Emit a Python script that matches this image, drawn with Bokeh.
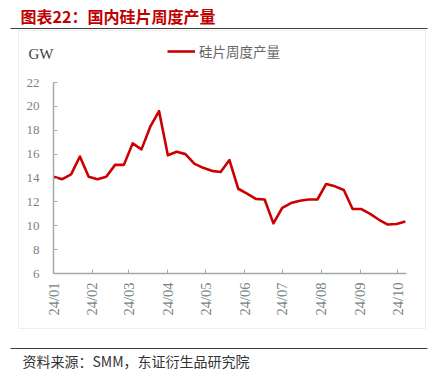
import math
import pandas as pd
from bokeh.plotting import figure
from bokeh.models import (Label, BoxAnnotation, Legend, LegendItem, FixedTicker,
                          DatetimeTickFormatter, Range1d)
from bokeh.embed import file_html
from bokeh.resources import INLINE

title_text = "图表22：国内硅片周度产量"
series_name = "硅片周度产量"
unit_label = "GW"
source_text = "资料来源：SMM，东证衍生品研究院"

week_dates = [
    "2024-01-01", "2024-01-08", "2024-01-15", "2024-01-22", "2024-01-29",
    "2024-02-05", "2024-02-12", "2024-02-19", "2024-02-26",
    "2024-03-04", "2024-03-11", "2024-03-18", "2024-03-25",
    "2024-04-01", "2024-04-08", "2024-04-15", "2024-04-22", "2024-04-29",
    "2024-05-06", "2024-05-13", "2024-05-20", "2024-05-27",
    "2024-06-03", "2024-06-10", "2024-06-17", "2024-06-24",
    "2024-07-01", "2024-07-08", "2024-07-15", "2024-07-22", "2024-07-29",
    "2024-08-05", "2024-08-12", "2024-08-19", "2024-08-26",
    "2024-09-02", "2024-09-09", "2024-09-16", "2024-09-23", "2024-09-30",
    "2024-10-07",
]
output_gw = [
    14.1, 13.9, 14.3, 15.8, 14.1,
    13.9, 14.1, 15.1, 15.1,
    16.9, 16.4, 18.3, 19.6,
    15.9, 16.2, 16.0, 15.2, 14.85,
    14.6, 14.5, 15.5, 13.1,
    12.7, 12.25, 12.2, 10.2,
    11.5, 11.9, 12.1, 12.2, 12.2,
    13.5, 13.3, 13.0, 11.4,
    11.4, 11.0, 10.5, 10.1, 10.15,
    10.35,
]
month_ticks = ["2024-01-01", "2024-02-01", "2024-03-01", "2024-04-01", "2024-05-01",
               "2024-06-01", "2024-07-01", "2024-08-01", "2024-09-01", "2024-10-01"]
y_ticks = [6, 8, 10, 12, 14, 16, 18, 20, 22]
axis_start = "2024-01-01"
axis_end = "2024-10-07 12:00"
y_min, y_max = 6, 22

W, H = 430, 376
# screen placement of the axes (pixels from the canvas top-left)
AX_LEFT, AX_RIGHT = 53.0, 405.5
AX_TOP, AX_BOTTOM = 82.0, 273.0

x = pd.to_datetime(week_dates)
t0 = pd.Timestamp(axis_start)
t1 = pd.Timestamp(axis_end)
ms_per_px = (t1 - t0) / (AX_RIGHT - AX_LEFT)
x_lo = t0 - ms_per_px * AX_LEFT
x_hi = t0 + ms_per_px * (W - AX_LEFT)
u_per_px = (y_max - y_min) / (AX_BOTTOM - AX_TOP)
y_lo = y_min - u_per_px * (H - AX_BOTTOM)
y_hi = y_max + u_per_px * AX_TOP

tick_ms = [pd.Timestamp(t).value / 1e6 for t in month_ticks]

p = figure(width=W, height=H, x_axis_type="datetime", output_backend="svg",
           toolbar_location=None,
           x_range=Range1d(x_lo, x_hi), y_range=Range1d(y_lo, y_hi),
           min_border=0)
p.background_fill_color = "white"
p.border_fill_color = "white"
p.outline_line_color = None
p.xgrid.visible = False
p.ygrid.visible = False

r = p.line(x, output_gw, line_color="#cc0000", line_width=2.6, line_join="round")

axis_color = "#a3aaaa"
label_color = "#778383"
for ax in (p.xaxis[0], p.yaxis[0]):
    ax.axis_line_color = axis_color
    ax.axis_line_width = 1.5
    ax.major_tick_line_color = axis_color
    ax.major_tick_in = 4
    ax.major_tick_out = 0
    ax.minor_tick_line_color = None
    ax.major_label_text_font = "Liberation Serif"
    ax.major_label_text_font_size = "13px"
    ax.major_label_text_color = label_color

xa = p.xaxis[0]
xa.ticker = FixedTicker(ticks=tick_ms)
fmt = "%y/%m"
xa.formatter = DatetimeTickFormatter(years=fmt, months=fmt, days=fmt, hours=fmt,
                                     minutes=fmt, seconds=fmt, milliseconds=fmt,
                                     microseconds=fmt, minsec=fmt, hourmin=fmt)
xa.major_label_orientation = math.pi / 2
xa.major_label_standoff = 9
xa.major_label_text_font_size = "14.5px"
xa.fixed_location = y_min
xa.bounds = (t0, t1)

ya = p.yaxis[0]
ya.ticker = FixedTicker(ticks=y_ticks)
ya.major_label_standoff = 14
ya.fixed_location = t0.value / 1e6
ya.bounds = (y_min, y_max)

cjk = "Noto Sans CJK SC"

def sy(Y):
    return H - Y

p.add_layout(Label(x=20, y=sy(15), x_units="screen", y_units="screen", text=title_text,
                   text_font=cjk, text_font_size="16px", text_font_style="bold",
                   text_color="#c00000", text_baseline="middle"))
p.add_layout(Label(x=28, y=sy(53), x_units="screen", y_units="screen", text=unit_label,
                   text_font="Liberation Serif", text_font_size="15px",
                   text_color="#404040", text_baseline="middle"))
p.add_layout(Label(x=22, y=sy(360), x_units="screen", y_units="screen", text=source_text,
                   text_font=cjk, text_font_size="14px",
                   text_color="#333333", text_baseline="middle"))

def box(left, right, top, bottom, **kw):
    return BoxAnnotation(left=left, right=right, top=sy(top), bottom=sy(bottom),
                         left_units="screen", right_units="screen",
                         top_units="screen", bottom_units="screen", **kw)

p.add_layout(box(10, 427, 27.5, 28.5, fill_color="#404040", fill_alpha=1, line_color=None))
p.add_layout(box(10, 427, 347.5, 348.5, fill_color="#404040", fill_alpha=1, line_color=None))
p.add_layout(box(18, 425, 30, 328, fill_alpha=0, line_color="#c8c8c8", line_width=1))

legend = Legend(items=[LegendItem(label=series_name, renderers=[r])],
                location=(167, sy(61)), padding=0, margin=0, spacing=0,
                border_line_color=None, background_fill_alpha=0,
                glyph_width=28, glyph_height=18, label_height=18, label_standoff=4,
                label_text_font=cjk, label_text_font_size="13.5px",
                label_text_color="#666666")
p.add_layout(legend)

open("out.html", "w").write(file_html(p, INLINE))
